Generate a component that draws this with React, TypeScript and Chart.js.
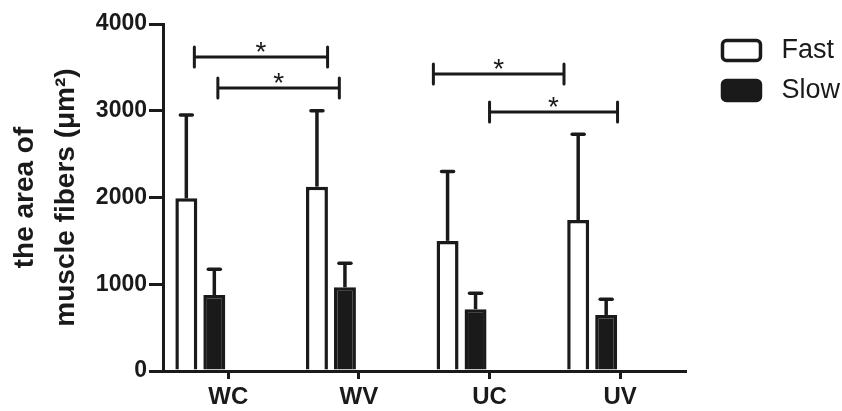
import React, { useEffect, useRef } from 'react';
import { Chart, registerables } from 'chart.js';

Chart.register(...registerables);

const categories = ['WC', 'WV', 'UC', 'UV'];
const fastMeans = [1990, 2125, 1500, 1740];
const fastSD = [960, 875, 800, 990];
const slowMeans = [876, 965, 712, 646];
const slowSD = [296, 278, 185, 182];
const yTicks = [0, 1000, 2000, 3000, 4000];
// significance brackets: ends in category units (0 = WC, 1 = WV ...), height in µm²
const bracketFrom = [-0.26, -0.08, 1.57, 2.0];
const bracketTo = [0.76, 0.85, 2.57, 2.98];
const bracketY = [3620, 3262, 3424, 2986];
const bracketLabel = ['*', '*', '*', '*'];

const INK = '#1a1a1a';
const FONT = '"Liberation Sans", Arial, Helvetica, sans-serif';

const annotationPlugin = {
  id: 'errorsAndBrackets',
  afterDatasetsDraw(chart: any) {
    const ctx = chart.ctx;
    const ys = chart.scales.y;
    const xs = chart.scales.x;
    const sds = [fastSD, slowSD];
    ctx.save();
    ctx.strokeStyle = INK;
    ctx.lineWidth = 3.5;
    sds.forEach((sd, di) => {
      const meta = chart.getDatasetMeta(di);
      meta.data.forEach((el: any, i: number) => {
        const mean = chart.data.datasets[di].data[i];
        const top = ys.getPixelForValue(mean + sd[i]);
        const x = el.x;
        ctx.lineCap = 'butt';
        ctx.beginPath();
        ctx.moveTo(x, el.y);
        ctx.lineTo(x, top);
        ctx.stroke();
        ctx.lineCap = 'round';
        ctx.beginPath();
        ctx.moveTo(x - 6, top);
        ctx.lineTo(x + 6, top);
        ctx.stroke();
      });
    });
    const p0 = xs.getPixelForValue(0);
    const step = xs.getPixelForValue(1) - p0;
    ctx.fillStyle = INK;
    ctx.font = `normal 28px ${FONT}`;
    ctx.textAlign = 'center';
    ctx.textBaseline = 'alphabetic';
    ctx.lineWidth = 3;
    bracketY.forEach((v, i) => {
      const y = ys.getPixelForValue(v);
      const x1 = p0 + bracketFrom[i] * step;
      const x2 = p0 + bracketTo[i] * step;
      ctx.lineCap = 'round';
      ctx.beginPath();
      ctx.moveTo(x1, y);
      ctx.lineTo(x2, y);
      ctx.moveTo(x1, y - 10);
      ctx.lineTo(x1, y + 10);
      ctx.moveTo(x2, y - 10);
      ctx.lineTo(x2, y + 10);
      ctx.stroke();
      ctx.fillText(bracketLabel[i], (x1 + x2) / 2, y + 4);
    });
    ctx.restore();
  },
};

export default function App() {
  const ref = useRef<HTMLCanvasElement | null>(null);
  useEffect(() => {
    if (!ref.current) return;
    const chart = new Chart(ref.current, {
      type: 'bar',
      data: {
        labels: categories,
        datasets: [
          {
            label: ' Fast',
            data: fastMeans,
            backgroundColor: '#ffffff',
            borderColor: INK,
            borderWidth: 3.5,
          },
          {
            label: ' Slow',
            data: slowMeans,
            backgroundColor: INK,
            borderColor: INK,
            borderWidth: 3.5,
          },
          { label: '', data: categories.map(() => null), backgroundColor: 'rgba(0,0,0,0)' },
          { label: '', data: categories.map(() => null), backgroundColor: 'rgba(0,0,0,0)' },
        ],
      },
      options: {
        responsive: false,
        animation: false,
        categoryPercentage: 0.857,
        barPercentage: 0.785,
        layout: { padding: { top: 24, right: -8, bottom: 0, left: 0 } },
        plugins: {
          tooltip: { enabled: false },
          legend: {
            position: 'right',
            align: 'start',
            labels: {
              boxWidth: 38,
              boxHeight: 20,
              padding: 13,
              useBorderRadius: true,
              borderRadius: 4,
              color: INK,
              font: { family: FONT, size: 27, weight: 'normal' },
              filter: (item: any) => item.text.trim() !== '',
            },
          },
        },
        scales: {
          x: {
            type: 'category',
            offset: true,
            grid: {
              offset: false,
              drawOnChartArea: false,
              drawTicks: true,
              tickLength: 8,
              tickWidth: 3,
              tickColor: INK,
              color: INK,
              lineWidth: 3,
            },
            border: { display: true, color: INK, width: 3 },
            ticks: {
              color: INK,
              padding: 4,
              font: { family: FONT, size: 24, weight: 'bold' },
              maxRotation: 0,
            },
            afterFit: (s: any) => {
              s.height = 40;
            },
          },
          y: {
            type: 'linear',
            position: 'left',
            min: 0,
            max: 4000,
            afterBuildTicks: (s: any) => {
              s.ticks = yTicks.map((v) => ({ value: v }));
            },
            grid: {
              drawOnChartArea: false,
              drawTicks: true,
              tickLength: 14,
              tickWidth: 3,
              tickColor: INK,
              color: INK,
              lineWidth: 3,
            },
            border: { display: true, color: INK, width: 3 },
            ticks: {
              color: INK,
              padding: 2,
              font: { family: FONT, size: 23, weight: 'bold' },
              callback: (v: any) => String(v),
            },
            title: {
              display: true,
              text: ['the area of', 'muscle fibers (μm²)'],
              color: INK,
              font: { family: FONT, size: 28, weight: 'bold', lineHeight: 1.46 },
              padding: { top: 5, bottom: 0 },
            },
            afterFit: (s: any) => {
              s.width = 163;
            },
          },
          gap: {
            type: 'linear',
            position: 'right',
            display: true,
            grid: { display: false },
            border: { display: false },
            ticks: { display: false },
            afterFit: (s: any) => {
              s.width = 24;
            },
          },
        },
      },
      plugins: [annotationPlugin],
    } as any);
    return () => chart.destroy();
  }, []);
  return (
    <div style={{ position: 'absolute', left: 0, top: 0, width: 842, height: 411, background: '#fff' }}>
      <canvas ref={ref} width={842} height={411} style={{ display: 'block' }} />
    </div>
  );
}
